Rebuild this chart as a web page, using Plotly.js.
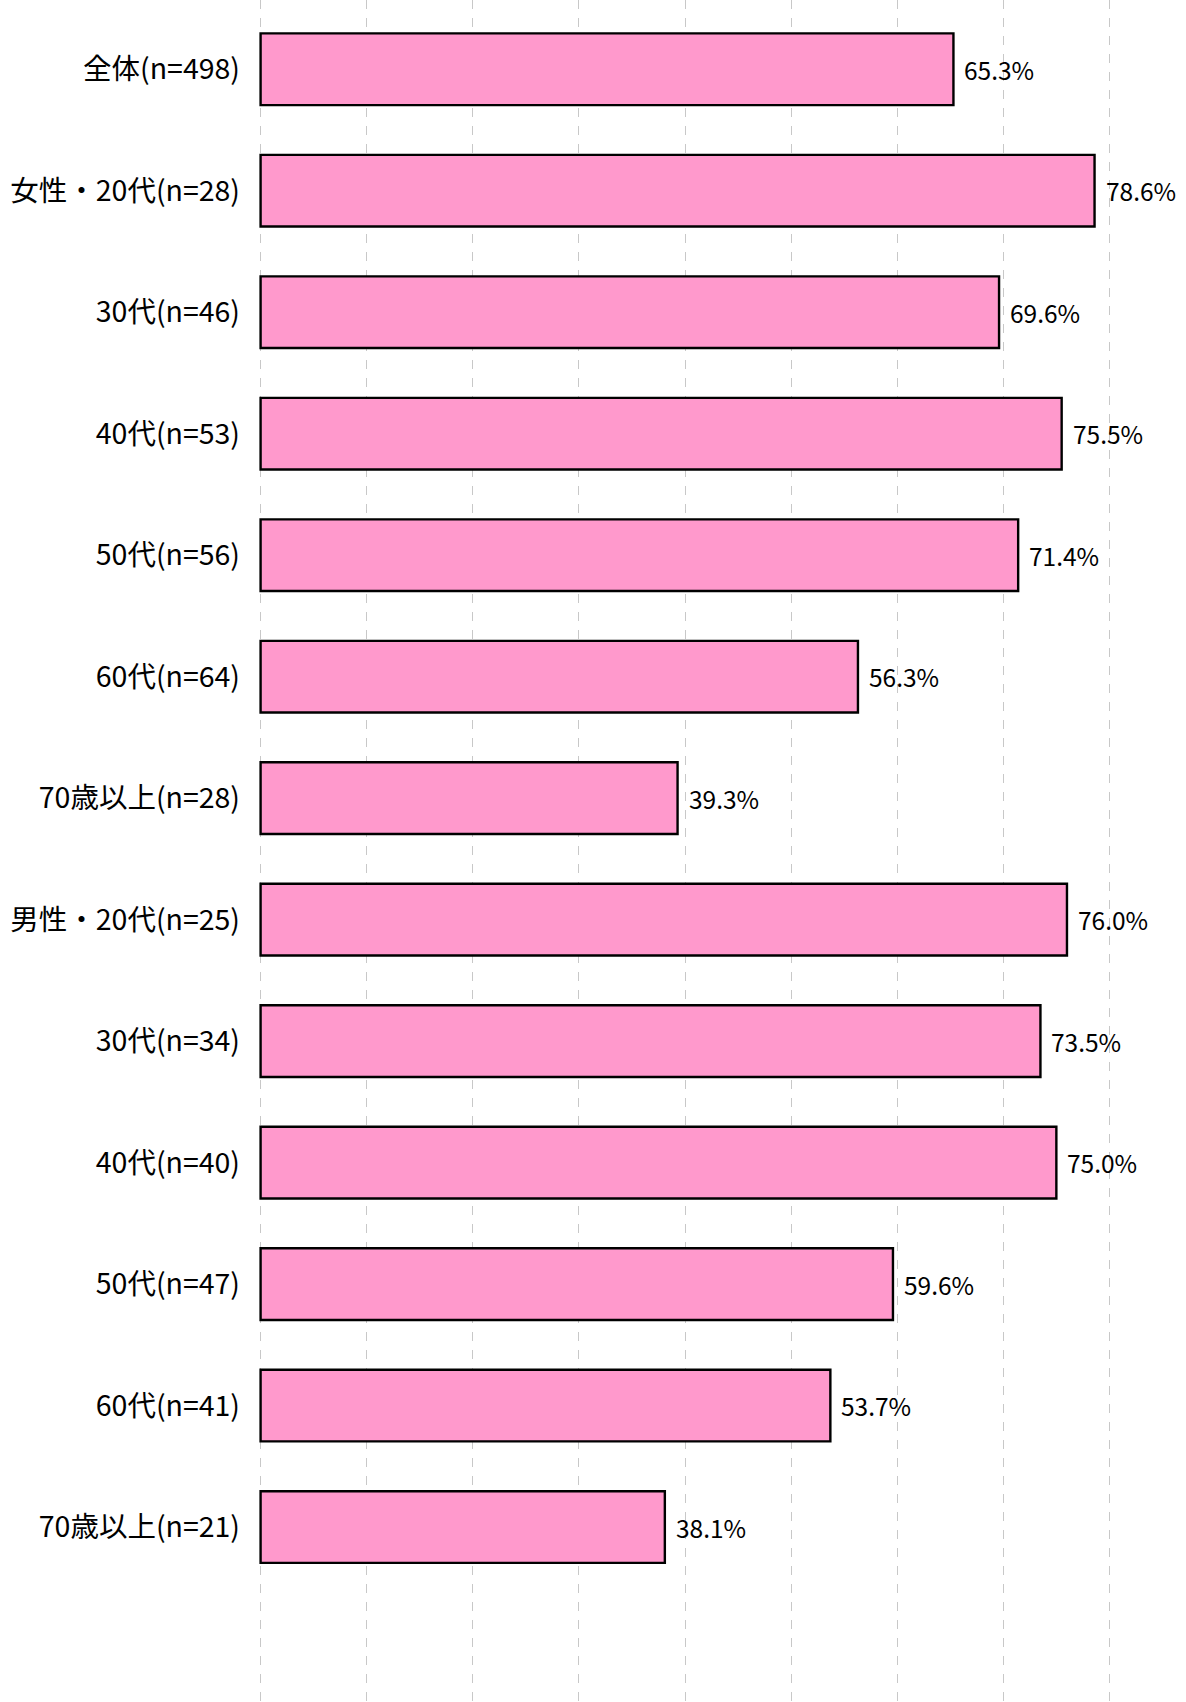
<!DOCTYPE html>
<html>
<head>
<meta charset="utf-8">
<script src="https://cdn.plot.ly/plotly-3.0.1.min.js"></script>
<style>html,body{margin:0;padding:0;background:#fff;}</style>
</head>
<body>
<div id="chart" style="width:1186px;height:1702px;"></div>
<script>
const categories = [
  "全体(n=498)",
  "女性・20代(n=28)",
  "30代(n=46)",
  "40代(n=53)",
  "50代(n=56)",
  "60代(n=64)",
  "70歳以上(n=28)",
  "男性・20代(n=25)",
  "30代(n=34)",
  "40代(n=40)",
  "50代(n=47)",
  "60代(n=41)",
  "70歳以上(n=21)"
];
const values = [65.3, 78.6, 69.6, 75.5, 71.4, 56.3, 39.3, 76.0, 73.5, 75.0, 59.6, 53.7, 38.1];
const tickLabels = categories;
const idx = categories.map((c, i) => i);

const trace = {
  type: 'bar',
  orientation: 'h',
  x: values,
  y: idx,
  width: 0.59,
  marker: { color: '#FF99CC', line: { color: '#000000', width: 2.4 } },
  hoverinfo: 'skip'
};

const annotations = values.map((v, i) => ({
  x: v,
  y: idx[i],
  xref: 'x',
  yref: 'y',
  text: v.toFixed(1) + '%',
  showarrow: false,
  xanchor: 'left',
  yanchor: 'middle',
  xshift: 9,
  font: { family: 'Noto Sans CJK JP', size: 24.5, color: '#000' }
}));

const layout = {
  width: 1186,
  height: 1702,
  margin: { l: 259, r: 75, t: 0, b: 0 },
  paper_bgcolor: '#fff',
  plot_bgcolor: '#fff',
  showlegend: false,
  annotations: annotations,
  xaxis: {
    range: [-0.15, 80.15],
    dtick: 10,
    tick0: 0,
    showgrid: true,
    gridcolor: '#c8c8c8',
    griddash: 'dash',
    gridwidth: 1,
    zeroline: false,
    showticklabels: false,
    showline: false,
    fixedrange: true
  },
  yaxis: {
    range: [13.44, -0.57],
    tickmode: 'array',
    tickvals: idx,
    ticktext: tickLabels,
    showgrid: false,
    zeroline: false,
    showline: false,
    ticks: '',
    ticklabelstandoff: 18,
    tickfont: { family: 'Noto Sans CJK JP', size: 28.5, color: '#000' },
    fixedrange: true
  }
};

Plotly.newPlot('chart', [trace], layout, { staticPlot: true, displayModeBar: false });
</script>
</body>
</html>
